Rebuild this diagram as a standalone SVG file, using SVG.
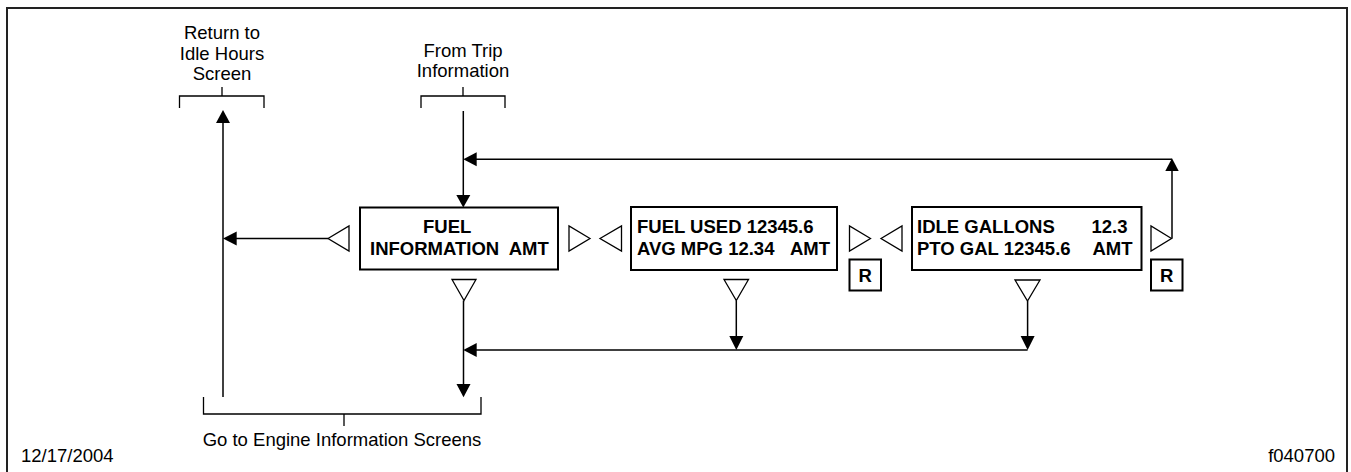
<svg xmlns="http://www.w3.org/2000/svg" width="1351" height="472" viewBox="0 0 1351 472">
<style>
.t{font-family:"Liberation Sans",Arial,sans-serif;font-size:18.5px;fill:#000}
.b{font-family:"Liberation Sans",Arial,sans-serif;font-size:18.5px;font-weight:bold;fill:#000}
.box{fill:#fff;stroke:#000;stroke-width:2}
.tri{fill:#fff;stroke:#000;stroke-width:1.3}
.ln{fill:none;stroke:#000;stroke-width:1.5}
.br{fill:none;stroke:#000;stroke-width:1.3}
.ah{fill:#000;stroke:none}
</style>
<rect width="1351" height="472" fill="#fff"/>
<path d="M7,472 V8 H1347 V472" fill="none" stroke="#222" stroke-width="2"/>

<g id="label-return">
<text class="t" x="222" y="39" text-anchor="middle">Return to</text>
<text class="t" x="222" y="60" text-anchor="middle">Idle Hours</text>
<text class="t" x="222" y="80" text-anchor="middle">Screen</text>
<path class="br" d="M179.5,108 V96 H264 V108 M222,87 V96"/>
</g>

<g id="label-from-trip">
<text class="t" x="463" y="57" text-anchor="middle">From Trip</text>
<text class="t" x="463" y="77" text-anchor="middle">Information</text>
<path class="br" d="M421,108 V96 H505 V108 M463,87 V96"/>
</g>

<g id="label-engine">
<path class="br" d="M203.5,397 V414 H481 V397 M344,414 V426"/>
<text class="t" x="342" y="446" text-anchor="middle">Go to Engine Information Screens</text>
</g>

<g id="node-fuel-info">
<rect class="box" x="360" y="207.5" width="198" height="62"/>
<text class="b" x="423" y="233">FUEL</text>
<text class="b" x="370" y="255" xml:space="preserve">INFORMATION  AMT</text>
<polygon class="tri" points="328,238.5 349,226 349,251"/>
<polygon class="tri" points="590,238.5 569,226 569,251"/>
<polygon class="tri" points="452,279.5 476,279.5 464,300.5"/>
</g>

<g id="node-fuel-used">
<rect class="box" x="631" y="207" width="206" height="63"/>
<text class="b" x="637" y="233">FUEL USED 12345.6</text>
<text class="b" x="637" y="255">AVG MPG 12.34</text>
<text class="b" x="830" y="255" text-anchor="end">AMT</text>
<polygon class="tri" points="600,238.5 621.5,226 621.5,251"/>
<polygon class="tri" points="870.5,238.5 849.5,226 849.5,251"/>
<polygon class="tri" points="724,279.5 748.5,279.5 736.3,300.5"/>
<rect class="box" x="849.5" y="259.5" width="31.5" height="31"/>
<text class="b" x="865.2" y="282" text-anchor="middle">R</text>
</g>

<g id="node-idle-gallons">
<rect class="box" x="912" y="207" width="229.5" height="63"/>
<text class="b" x="917" y="232.5">IDLE GALLONS</text>
<text class="b" x="1127.5" y="232.5" text-anchor="end">12.3</text>
<text class="b" x="917" y="255">PTO GAL 12345.6</text>
<text class="b" x="1132.5" y="255" text-anchor="end">AMT</text>
<polygon class="tri" points="881,238.5 902,226 902,251"/>
<polygon class="tri" points="1171.5,238.5 1151,226 1151,251"/>
<polygon class="tri" points="1015,280 1040,280 1027.5,301"/>
<rect class="box" x="1151" y="259.5" width="31.5" height="31"/>
<text class="b" x="1166.8" y="282" text-anchor="middle">R</text>
</g>

<g id="connectors">
<path class="ln" d="M463.3,111 V195"/>
<polygon class="ah" points="456.3,195 470.3,195 463.3,207.5"/>
<path class="ln" d="M1172,238.5 V170"/>
<polygon class="ah" points="1165.3,171 1178.7,171 1172,158.3"/>
<path class="ln" d="M1172,159.3 H476"/>
<polygon class="ah" points="476.7,152.3 476.7,166.3 463.3,159.3"/>
<path class="ln" d="M328,238.5 H235"/>
<polygon class="ah" points="236.7,231.5 236.7,245.5 223,238.5"/>
<path class="ln" d="M223,397 V122"/>
<polygon class="ah" points="216,123 230,123 223,110"/>
<path class="ln" d="M463.5,300.5 V385"/>
<polygon class="ah" points="456.5,384 470.5,384 463.5,397.3"/>
<path class="ln" d="M736.3,300.5 V337"/>
<polygon class="ah" points="729.3,336 743.3,336 736.3,350"/>
<path class="ln" d="M1027.6,301 V337"/>
<polygon class="ah" points="1020.6,336 1034.6,336 1027.6,350"/>
<path class="ln" d="M1027.6,350 H476"/>
<polygon class="ah" points="476.7,343 476.7,357 463.3,350"/>
</g>

<g id="footer">
<text class="t" x="21" y="462">12/17/2004</text>
<text class="t" x="1335" y="462" text-anchor="end">f040700</text>
</g>
</svg>
